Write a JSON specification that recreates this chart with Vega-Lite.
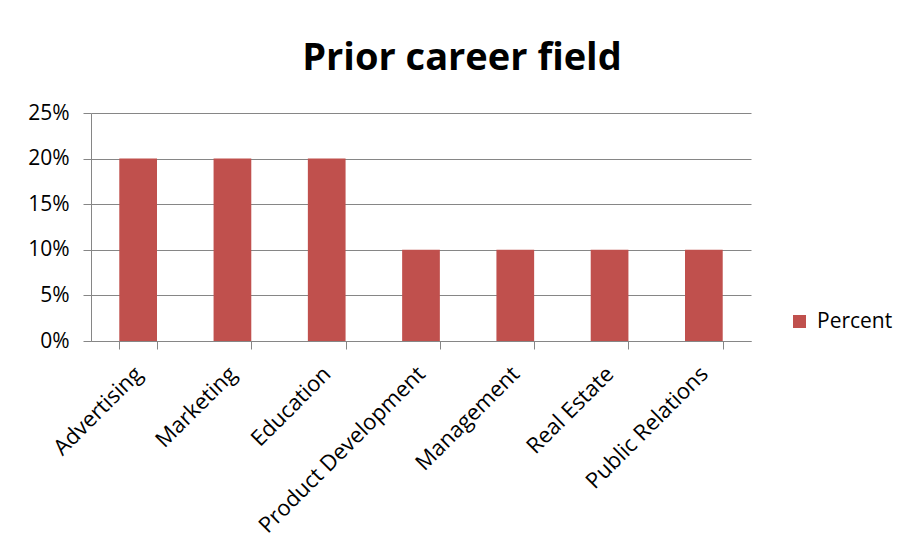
{
  "$schema": "https://vega.github.io/schema/vega-lite/v6.json",
  "width": 660,
  "height": 228,
  "autosize": {"type": "none"},
  "padding": {"left": 91, "top": 113, "right": 155, "bottom": 214},
  "background": "white",
  "title": {
    "text": "Prior career field",
    "font": "Open Sans",
    "fontSize": 38,
    "fontWeight": "bold",
    "color": "#000000",
    "anchor": "middle",
    "frame": "group",
    "dx": 41,
    "offset": 24
  },
  "data": {
    "values": [
      {"field": "Advertising", "percent": 0.20},
      {"field": "Marketing", "percent": 0.20},
      {"field": "Education", "percent": 0.20},
      {"field": "Product Development", "percent": 0.10},
      {"field": "Management", "percent": 0.10},
      {"field": "Real Estate", "percent": 0.10},
      {"field": "Public Relations", "percent": 0.10}
    ]
  },
  "mark": {"type": "bar"},
  "encoding": {
    "x": {
      "field": "field",
      "type": "nominal",
      "sort": null,
      "scale": {"paddingInner": 0.6, "paddingOuter": 0.3},
      "axis": {
        "title": null,
        "labelAngle": -45,
        "labelAlign": "right",
        "labelBaseline": "middle",
        "labelFont": "Open Sans",
        "labelFontSize": 22,
        "labelColor": "#000000",
        "labelPadding": 21,
        "labelOverlap": false,
        "labelLimit": 400,
        "tickBand": "extent",
        "ticks": true,
        "tickSize": 8,
        "tickColor": "#868686",
        "domainColor": "#868686",
        "grid": false
      }
    },
    "y": {
      "field": "percent",
      "type": "quantitative",
      "scale": {"domain": [0, 0.25]},
      "axis": {
        "title": null,
        "values": [0, 0.05, 0.1, 0.15, 0.2, 0.25],
        "format": ".0%",
        "labelFont": "Open Sans",
        "labelFontSize": 21,
        "labelColor": "#000000",
        "labelPadding": 14,
        "tickSize": 8,
        "tickColor": "#868686",
        "domainColor": "#868686",
        "grid": true,
        "gridColor": "#868686"
      }
    },
    "color": {
      "datum": "Percent",
      "type": "nominal",
      "scale": {"range": ["#C0504D"]},
      "legend": {
        "title": null,
        "orient": "none",
        "legendX": 698,
        "legendY": 198,
        "symbolType": "square",
        "symbolSize": 169,
        "symbolStrokeWidth": 0,
        "labelFont": "Open Sans",
        "labelFontSize": 21,
        "labelColor": "#000000",
        "labelOffset": 7
      }
    }
  },
  "config": {
    "view": {"stroke": null},
    "axis": {"domainWidth": 1, "tickWidth": 1, "gridWidth": 1}
  }
}
